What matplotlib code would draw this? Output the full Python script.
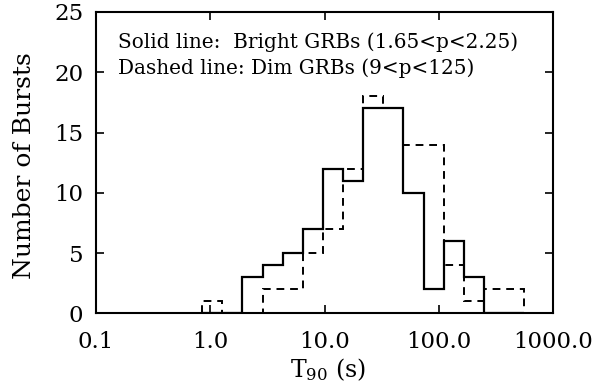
import matplotlib
matplotlib.use("Agg")
import matplotlib.pyplot as plt

# Bin edges (T90 in seconds), logarithmic bins (ratio ~1.5)
bin_edges = [0.848, 1.272, 1.908, 2.862, 4.293, 6.44, 9.66, 14.49, 21.74,
             32.6, 48.9, 73.4, 110.0, 165.1, 247.6, 371.4, 557.1]
# Solid line: Bright GRBs
bright_counts = [0, 0, 3, 4, 5, 7, 12, 11, 17, 17, 10, 2, 6, 3, 0, 0]
# Dashed line: Dim GRBs
dim_counts = [1, 0, 0, 2, 2, 5, 7, 12, 18, 17, 14, 14, 4, 1, 2, 2]

x_ticks = [0.1, 1.0, 10.0, 100.0, 1000.0]
x_tick_labels = ["0.1", "1.0", "10.0", "100.0", "1000.0"]
y_ticks = [0, 5, 10, 15, 20, 25]

plt.rcParams['font.family'] = ['DejaVu Serif']
plt.rcParams['mathtext.fontset'] = 'dejavuserif'

fig = plt.figure(figsize=(6.06, 3.85), dpi=100)
ax = fig.add_axes([96/606, 1-313.3/385, (553.3-96)/606, (313.3-12)/385])

ax.stairs(dim_counts, bin_edges, color='black', lw=1.4, linestyle=(0, (4, 3)))
ax.stairs(bright_counts, bin_edges, color='black', lw=1.6)

ax.set_xscale('log')
ax.set_xlim(0.1, 1000)
ax.set_ylim(0, 25)
ax.set_xticks(x_ticks)
ax.set_xticklabels(x_tick_labels)
ax.xaxis.set_minor_locator(matplotlib.ticker.NullLocator())
ax.set_yticks(y_ticks)
ax.tick_params(axis='both', which='major', direction='in', length=6, width=1.2,
               top=True, right=True, labelsize=16.5, colors='black')
ax.tick_params(axis='x', pad=13)
ax.tick_params(axis='y', pad=9)
for s in ax.spines.values():
    s.set_linewidth(1.5)

ax.text(118/606, 1-48.5/385, "Solid line:  Bright GRBs (1.65<p<2.25)",
        transform=fig.transFigure, fontsize=14.4, ha='left', va='baseline')
ax.text(118/606, 1-73.5/385, "Dashed line: Dim GRBs (9<p<125)",
        transform=fig.transFigure, fontsize=14.4, ha='left', va='baseline')

fig.text(25/606, 1-166/385, "Number of Bursts", rotation=90, ha='center',
         va='center', fontsize=18)
fig.text(328/606, 1-370/385, r"T$_{90}$ (s)", ha='center', va='center',
         fontsize=17)

fig.savefig("out.png", dpi=100)
